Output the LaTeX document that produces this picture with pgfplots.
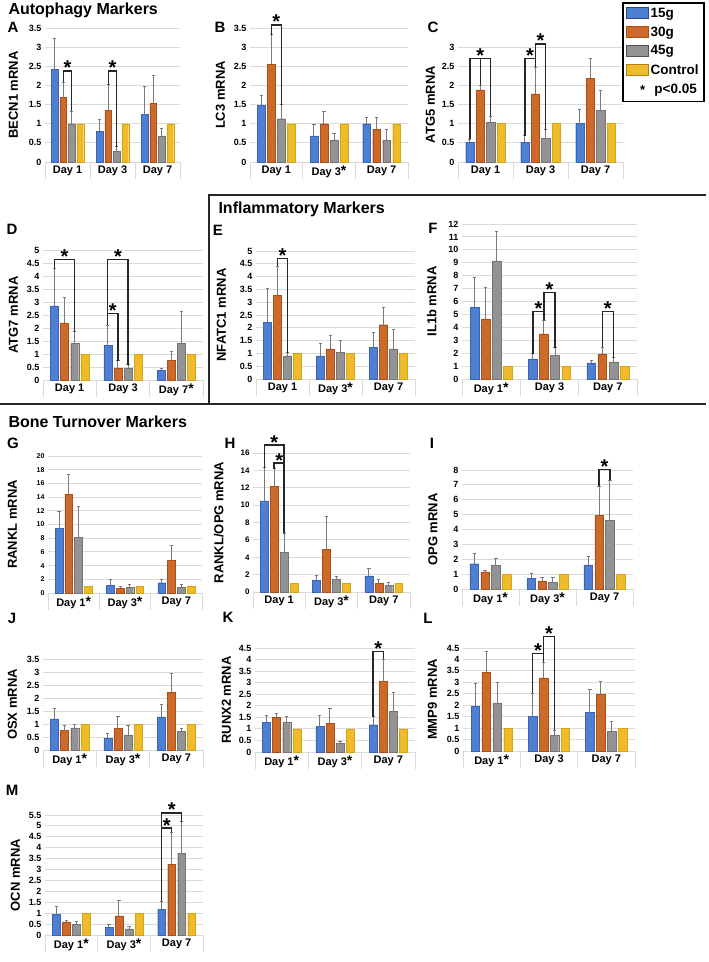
\documentclass[border=0pt]{standalone}
\usepackage{fontspec}
\setmainfont{Liberation Sans}
\usepackage{pgfplots}
\pgfplotsset{compat=1.18}
\usetikzlibrary{calc}

\definecolor{c15}{HTML}{4F7FD2}
\definecolor{c15d}{HTML}{3B64B4}
\definecolor{c30}{HTML}{CC6A2C}
\definecolor{c30d}{HTML}{A9501A}
\definecolor{c45}{HTML}{939393}
\definecolor{c45d}{HTML}{747474}
\definecolor{cC}{HTML}{EEBB2B}
\definecolor{cCd}{HTML}{D8A414}
\definecolor{gridc}{HTML}{DADADA}
\definecolor{errc}{HTML}{7A7A7A}

% star on a category label
\newcommand{\dstar}{{\fontsize{14}{14}\selectfont\raisebox{0.5pt}{*}}}
% significance bracket: x1 y1 (left leg foot), x2 y2 (right leg foot), height
\newcommand{\brk}[5]{%
  \draw[line width=1.4pt, black!85] (axis cs:#1,#2) -- (axis cs:#1,#5) -- (axis cs:#3,#5) -- (axis cs:#3,#4);
  \node[font=\bfseries\fontsize{20}{20}\selectfont, anchor=base, inner sep=0pt, yshift=-4pt]
    at ($(axis cs:#1,#5)!0.5!(axis cs:#3,#5)$) {*};}
\newcommand{\leg}[3]{\draw[line width=1.4pt, black!85] (axis cs:#1,#2) -- (axis cs:#1,#3);}

\pgfplotsset{
  eb/.style={/pgfplots/error bars/y dir=plus, /pgfplots/error bars/y explicit,
    /pgfplots/error bars/error bar style={draw=errc, line width=1pt},
    /pgfplots/error bars/error mark options={rotate=90, draw=errc, mark size=1.6pt, line width=1pt}},
  s15/.style={fill=c15, draw=c15d, bar shift=-0.285, eb},
  s30/.style={fill=c30, draw=c30d, bar shift=-0.095, eb},
  s45/.style={fill=c45, draw=c45d, bar shift=0.095, eb},
  sC/.style={fill=cC, draw=cCd, bar shift=0.285},
  panel/.style={
    scale only axis, anchor=south west,
    xmin=-0.5, xmax=2.5, ymin=0,
    axis lines*=left,
    y axis line style={draw=none},
    x axis line style={draw=gridc, line width=0.9pt},
    tick align=outside, major tick length=0pt, minor tick length=17pt,
    xtick={0,1,2}, minor xtick={-0.5,0.5,1.5,2.5},
    minor tick style={draw=gridc, line width=0.9pt},
    major tick style={draw=none},
    ymajorgrids, grid style={draw=gridc, line width=0.9pt},
    ybar, bar width=0.15,
    clip=false,
    /pgf/number format/assume math mode=true,
    yticklabel style={font=\bfseries\fontsize{9}{9}\selectfont},
    xticklabel style={font=\bfseries\fontsize{11}{11}\selectfont},
    ylabel style={font=\bfseries\fontsize{13}{13}\selectfont},
  },
}

\begin{document}
\begin{tikzpicture}
\useasboundingbox (0,0) rectangle (709pt,-962pt);

% ---------- A ----------
\begin{axis}[panel, at={(45pt,-162pt)}, width=135pt, height=134pt, ymax=3.5, ytick distance=0.5,
  ylabel={BECN1 mRNA}, ylabel shift=4pt, xticklabels={Day 1,Day 3,Day 7}]
\addplot[s15] coordinates {(0,2.42) +- (0,0.80) (1,0.80) +- (0,0.32) (2,1.24) +- (0,0.72)};
\addplot[s30] coordinates {(0,1.68) +- (0,0.40) (1,1.35) +- (0,0.67) (2,1.53) +- (0,0.74)};
\addplot[s45] coordinates {(0,1.00) +- (0,0.32) (1,0.28) +- (0,0.12) (2,0.68) +- (0,0.20)};
\addplot[sC] coordinates {(0,1) (1,1) (2,1)};
\brk{-0.095}{2.08}{0.095}{1.32}{2.38}
\brk{0.905}{2.02}{1.095}{0.40}{2.38}
\end{axis}

% ---------- B ----------
\begin{axis}[panel, at={(250pt,-162pt)}, width=158pt, height=134pt, ymax=3.5, ytick distance=0.5,
  ylabel={LC3 mRNA}, ylabel shift=2pt, xticklabels={Day 1,Day 3\dstar,Day 7}]
\addplot[s15] coordinates {(0,1.48) +- (0,0.25) (1,0.68) +- (0,0.29) (2,1.00) +- (0,0.15)};
\addplot[s30] coordinates {(0,2.55) +- (0,0.77) (1,1.00) +- (0,0.31) (2,0.86) +- (0,0.29)};
\addplot[s45] coordinates {(0,1.13) +- (0,0.36) (1,0.58) +- (0,0.16) (2,0.58) +- (0,0.26)};
\addplot[sC] coordinates {(0,1) (1,1) (2,1)};
\brk{-0.095}{3.32}{0.095}{1.49}{3.58}
\end{axis}

% ---------- C ----------
\begin{axis}[panel, at={(458pt,-162pt)}, width=165pt, height=115pt, ymax=3, ytick distance=0.5,
  ylabel={ATG5 mRNA}, xticklabels={Day 1,Day 3,Day 7},
  legend style={at={(axis description cs:0.994,1.39)}, anchor=north west, draw=black,
    line width=1.6pt, font=\bfseries\fontsize{13.5}{15}\selectfont, inner sep=3pt, row sep=4pt},
  legend cell align=left]
\addplot[s15, forget plot] coordinates {(0,0.52) +- (0,0.08) (1,0.52) +- (0,0.16) (2,1.00) +- (0,0.37)};
\addplot[s30, forget plot] coordinates {(0,1.88) +- (0,0.12) (1,1.78) +- (0,0.69) (2,2.18) +- (0,0.53)};
\addplot[s45, forget plot] coordinates {(0,1.05) +- (0,0.15) (1,0.62) +- (0,0.22) (2,1.35) +- (0,0.52)};
\addplot[sC, forget plot] coordinates {(0,1) (1,1) (2,1)};
\brk{-0.285}{0.60}{0.095}{1.20}{2.70}
\leg{-0.095}{2.00}{2.70}
\brk{0.715}{0.68}{0.905}{2.47}{2.70}
\brk{0.905}{2.70}{1.095}{0.84}{3.08}
\addlegendimage{legend image code/.code={\draw[fill=c15,draw=c15d!70!black,line width=0.9pt] (0pt,-5pt) rectangle (22pt,6pt);}}
\addlegendentry{15g}
\addlegendimage{legend image code/.code={\draw[fill=c30,draw=c30d,line width=0.9pt] (0pt,-5pt) rectangle (22pt,6pt);}}
\addlegendentry{30g}
\addlegendimage{legend image code/.code={\draw[fill=c45,draw=c45d!70!black,line width=0.9pt] (0pt,-5pt) rectangle (22pt,6pt);}}
\addlegendentry{45g}
\addlegendimage{legend image code/.code={\draw[fill=cC,draw=cCd!80!black,line width=0.9pt] (0pt,-5pt) rectangle (22pt,6pt);}}
\addlegendentry{Control}
\addlegendimage{legend image code/.code={\node[font=\bfseries\fontsize{13}{13}\selectfont] at (11pt,-2pt) {*};}}
\addlegendentry{\ p<0.05}
\end{axis}

% ---------- D ----------
\begin{axis}[panel, at={(43pt,-380pt)}, width=160pt, height=130pt, ymax=5, ytick distance=0.5,
  ylabel={ATG7 mRNA}, ylabel shift=2pt, xticklabels={Day 1,Day 3,Day 7\dstar}]
\addplot[s15] coordinates {(0,2.85) +- (0,1.45) (1,1.32) +- (0,0.78) (2,0.38) +- (0,0.07)};
\addplot[s30] coordinates {(0,2.20) +- (0,0.98) (1,0.45) +- (0,0.30) (2,0.75) +- (0,0.35)};
\addplot[s45] coordinates {(0,1.40) +- (0,0.45) (1,0.45) +- (0,0.13) (2,1.40) +- (0,1.25)};
\addplot[sC] coordinates {(0,1) (1,1) (2,1)};
\brk{-0.285}{4.30}{0.095}{1.85}{4.64}
\brk{0.715}{2.10}{0.905}{0.75}{2.55}
\brk{0.715}{2.55}{1.095}{0.58}{4.64}
\end{axis}

% ---------- E ----------
\begin{axis}[panel, at={(256pt,-379pt)}, width=159pt, height=128pt, ymax=5, ytick distance=0.5,
  ylabel={NFATC1 mRNA}, ylabel shift=7pt, xticklabels={Day 1,Day 3\dstar,Day 7}]
\addplot[s15] coordinates {(0,2.22) +- (0,1.30) (1,0.90) +- (0,0.48) (2,1.25) +- (0,0.55)};
\addplot[s30] coordinates {(0,3.28) +- (0,1.12) (1,1.18) +- (0,0.52) (2,2.12) +- (0,0.68)};
\addplot[s45] coordinates {(0,0.90) +- (0,0.13) (1,1.05) +- (0,0.47) (2,1.18) +- (0,0.74)};
\addplot[sC] coordinates {(0,1) (1,1) (2,1)};
\brk{-0.095}{4.40}{0.095}{1.03}{4.70}
\end{axis}

% ---------- F ----------
\begin{axis}[panel, at={(462pt,-379pt)}, width=175pt, height=155pt, ymax=12, ytick distance=1,
  ylabel={IL1b mRNA}, ylabel shift=5pt, xticklabels={Day 1\dstar,Day 3,Day 7}]
\addplot[s15] coordinates {(0,5.57) +- (0,2.28) (1,1.55) +- (0,0.39) (2,1.24) +- (0,0.21)};
\addplot[s30] coordinates {(0,4.66) +- (0,2.46) (1,3.50) +- (0,1.06) (2,1.94) +- (0,0.52)};
\addplot[s45] coordinates {(0,9.15) +- (0,2.25) (1,1.81) +- (0,0.60) (2,1.32) +- (0,0.31)};
\addplot[sC] coordinates {(0,1) (1,1) (2,1)};
\brk{0.715}{1.94}{0.905}{4.56}{5.23}
\brk{0.905}{5.23}{1.095}{2.41}{6.70}
\brk{1.905}{2.46}{2.095}{1.63}{5.23}
\end{axis}

% ---------- G ----------
\begin{axis}[panel, at={(48pt,-593pt)}, width=154pt, height=137pt, ymax=20, ytick distance=2,
  ylabel={RANKL mRNA}, ylabel shift=13pt, xticklabels={Day 1\dstar,Day 3\dstar,Day 7},
  yticklabel style={font=\bfseries\fontsize{7}{7}\selectfont}]
\addplot[s15] coordinates {(0,9.4) +- (0,2.5) (1,1.1) +- (0,0.8) (2,1.5) +- (0,0.5)};
\addplot[s30] coordinates {(0,14.4) +- (0,2.9) (1,0.7) +- (0,0.3) (2,4.8) +- (0,2.2)};
\addplot[s45] coordinates {(0,8.1) +- (0,4.5) (1,0.8) +- (0,0.5) (2,0.8) +- (0,0.4)};
\addplot[sC] coordinates {(0,1) (1,1) (2,1)};
\end{axis}

% ---------- H ----------
\begin{axis}[panel, at={(253pt,-592pt)}, width=157pt, height=139pt, ymax=16, ytick distance=2,
  ylabel={RANKL/OPG mRNA}, ylabel shift=10pt, xticklabels={Day 1,Day 3\dstar,Day 7},
  yticklabel style={font=\bfseries\fontsize{8}{8}\selectfont}]
\addplot[s15] coordinates {(0,10.5) +- (0,3.8) (1,1.35) +- (0,0.58) (2,1.85) +- (0,0.85)};
\addplot[s30] coordinates {(0,12.2) +- (0,2.0) (1,4.94) +- (0,3.76) (2,0.97) +- (0,0.46)};
\addplot[s45] coordinates {(0,4.55) +- (0,2.2) (1,1.47) +- (0,0.27) (2,0.77) +- (0,0.27)};
\addplot[sC] coordinates {(0,1) (1,1) (2,1)};
\brk{-0.285}{14.3}{0.095}{6.75}{16.9}
\brk{-0.095}{14.2}{0.095}{6.75}{14.85}
\end{axis}

% ---------- I ----------
\begin{axis}[panel, at={(462pt,-589pt)}, width=171pt, height=119pt, ymax=8, ytick distance=1,
  ylabel={OPG mRNA}, ylabel shift=9pt, xticklabels={Day 1\dstar,Day 3\dstar,Day 7}]
\addplot[s15] coordinates {(0,1.70) +- (0,0.70) (1,0.73) +- (0,0.34) (2,1.63) +- (0,0.57)};
\addplot[s30] coordinates {(0,1.15) +- (0,0.10) (1,0.55) +- (0,0.25) (2,4.95) +- (0,1.95)};
\addplot[s45] coordinates {(0,1.60) +- (0,0.45) (1,0.45) +- (0,0.33) (2,4.60) +- (0,2.70)};
\addplot[sC] coordinates {(0,1) (1,1) (2,1)};
\brk{1.905}{6.90}{2.095}{7.30}{8.05}
\end{axis}

% ---------- J ----------
\begin{axis}[panel, at={(43pt,-750pt)}, width=160pt, height=91pt, ymax=3.5, ytick distance=0.5,
  ylabel={OSX mRNA}, ylabel shift=3pt, xticklabels={Day 1\dstar,Day 3\dstar,Day 7}]
\addplot[s15] coordinates {(0,1.20) +- (0,0.38) (1,0.45) +- (0,0.17) (2,1.27) +- (0,0.48)};
\addplot[s30] coordinates {(0,0.75) +- (0,0.18) (1,0.82) +- (0,0.48) (2,2.23) +- (0,0.70)};
\addplot[s45] coordinates {(0,0.85) +- (0,0.12) (1,0.58) +- (0,0.35) (2,0.72) +- (0,0.11)};
\addplot[sC] coordinates {(0,1) (1,1) (2,1)};
\end{axis}

% ---------- K ----------
\begin{axis}[panel, at={(255pt,-752pt)}, width=160pt, height=104pt, ymax=4.5, ytick distance=0.5,
  ylabel={RUNX2 mRNA}, ylabel shift=1pt, xticklabels={Day 1\dstar,Day 3\dstar,Day 7}]
\addplot[s15] coordinates {(0,1.28) +- (0,0.29) (1,1.10) +- (0,0.50) (2,1.18) +- (0,0.35)};
\addplot[s30] coordinates {(0,1.50) +- (0,0.17) (1,1.25) +- (0,0.62) (2,3.05) +- (0,0.97)};
\addplot[s45] coordinates {(0,1.28) +- (0,0.25) (1,0.38) +- (0,0.09) (2,1.77) +- (0,0.80)};
\addplot[sC] coordinates {(0,1) (1,1) (2,1)};
\brk{1.715}{1.53}{1.905}{4.02}{4.36}
\end{axis}

% ---------- L ----------
\begin{axis}[panel, at={(463pt,-751pt)}, width=172pt, height=103pt, ymax=4.5, ytick distance=0.5,
  ylabel={MMP9 mRNA}, ylabel shift=3pt, xticklabels={Day 1\dstar,Day 3,Day 7}]
\addplot[s15] coordinates {(0,1.95) +- (0,1.02) (1,1.50) +- (0,1.03) (2,1.68) +- (0,1.00)};
\addplot[s30] coordinates {(0,3.45) +- (0,0.90) (1,3.20) +- (0,0.68) (2,2.47) +- (0,0.57)};
\addplot[s45] coordinates {(0,2.10) +- (0,0.90) (1,0.67) +- (0,0.23) (2,0.85) +- (0,0.42)};
\addplot[sC] coordinates {(0,1) (1,1) (2,1)};
\brk{0.715}{2.53}{0.905}{3.88}{4.27}
\brk{0.905}{4.27}{1.095}{0.90}{5.00}
\end{axis}

% ---------- M ----------
\begin{axis}[panel, at={(45pt,-935pt)}, width=158pt, height=120pt, ymax=5.5, ytick distance=0.5,
  ylabel={OCN mRNA}, ylabel shift=2pt, xticklabels={Day 1\dstar,Day 3\dstar,Day 7}]
\addplot[s15] coordinates {(0,0.95) +- (0,0.35) (1,0.35) +- (0,0.13) (2,1.18) +- (0,0.37)};
\addplot[s30] coordinates {(0,0.60) +- (0,0.08) (1,0.88) +- (0,0.72) (2,3.25) +- (0,1.45)};
\addplot[s45] coordinates {(0,0.48) +- (0,0.14) (1,0.28) +- (0,0.10) (2,3.75) +- (0,1.45)};
\addplot[sC] coordinates {(0,1) (1,1) (2,1)};
\brk{1.715}{1.55}{1.905}{4.70}{4.90}
\brk{1.715}{4.90}{2.095}{5.20}{5.60}
\end{axis}

% ---------- section titles, letters, frames ----------
\begin{scope}[font=\bfseries\fontsize{16}{16}\selectfont]
\node[anchor=west] at (5pt,-10pt) {Autophagy Markers};
\node[anchor=west] at (215pt,-209pt) {Inflammatory Markers};
\node[anchor=west] at (5pt,-422pt) {Bone Turnover Markers};
\end{scope}
\begin{scope}[font=\bfseries\fontsize{15}{15}\selectfont]
\node at (13pt,-27pt) {A};
\node at (220pt,-27pt) {B};
\node at (433pt,-27pt) {C};
\node at (12pt,-229pt) {D};
\node at (218pt,-230pt) {E};
\node at (433pt,-228pt) {F};
\node at (13pt,-443pt) {G};
\node at (230pt,-443pt) {H};
\node at (432pt,-443pt) {I};
\node at (12pt,-618pt) {J};
\node at (228pt,-617pt) {K};
\node at (428pt,-618pt) {L};
\node at (12pt,-790pt) {M};
\end{scope}
\draw[line width=1.5pt, black!85] (209pt,-404pt) -- (209pt,-195pt) -- (706pt,-195pt);
\draw[line width=1.5pt, black!85] (0pt,-404pt) -- (706pt,-404pt);
\end{tikzpicture}
\end{document}
